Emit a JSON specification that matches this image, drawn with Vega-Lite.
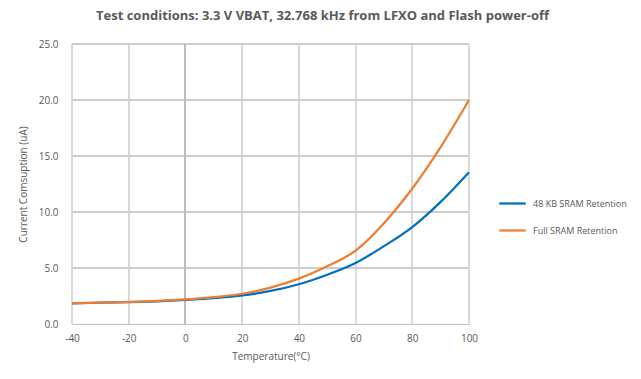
{
  "$schema": "https://vega.github.io/schema/vega-lite/v6.json",
  "width": 397,
  "height": 280,
  "autosize": {"type": "none"},
  "padding": {"left": 72, "top": 44, "right": 172, "bottom": 55},
  "background": "white",
  "title": {
    "text": "Test conditions: 3.3 V VBAT, 32.768 kHz from LFXO and Flash power-off",
    "font": "Open Sans",
    "fontSize": 13,
    "fontWeight": "bold",
    "color": "#595959",
    "anchor": "middle",
    "dx": 52,
    "offset": 16
  },
  "data": {
    "values": [
      {"t": -40, "s": "48 KB SRAM Retention", "v": 1.85},
      {"t": -30, "s": "48 KB SRAM Retention", "v": 1.9},
      {"t": -20, "s": "48 KB SRAM Retention", "v": 1.95},
      {"t": -10, "s": "48 KB SRAM Retention", "v": 2.03},
      {"t": 0, "s": "48 KB SRAM Retention", "v": 2.15},
      {"t": 10, "s": "48 KB SRAM Retention", "v": 2.3},
      {"t": 20, "s": "48 KB SRAM Retention", "v": 2.55},
      {"t": 30, "s": "48 KB SRAM Retention", "v": 2.95},
      {"t": 40, "s": "48 KB SRAM Retention", "v": 3.55},
      {"t": 50, "s": "48 KB SRAM Retention", "v": 4.4},
      {"t": 60, "s": "48 KB SRAM Retention", "v": 5.45},
      {"t": 70, "s": "48 KB SRAM Retention", "v": 6.95},
      {"t": 80, "s": "48 KB SRAM Retention", "v": 8.65},
      {"t": 90, "s": "48 KB SRAM Retention", "v": 10.9},
      {"t": 100, "s": "48 KB SRAM Retention", "v": 13.55},
      {"t": -40, "s": "Full SRAM Retention", "v": 1.85},
      {"t": -30, "s": "Full SRAM Retention", "v": 1.9},
      {"t": -20, "s": "Full SRAM Retention", "v": 1.97},
      {"t": -10, "s": "Full SRAM Retention", "v": 2.06},
      {"t": 0, "s": "Full SRAM Retention", "v": 2.2},
      {"t": 10, "s": "Full SRAM Retention", "v": 2.4},
      {"t": 20, "s": "Full SRAM Retention", "v": 2.7},
      {"t": 30, "s": "Full SRAM Retention", "v": 3.25},
      {"t": 40, "s": "Full SRAM Retention", "v": 4.05},
      {"t": 50, "s": "Full SRAM Retention", "v": 5.15},
      {"t": 60, "s": "Full SRAM Retention", "v": 6.55},
      {"t": 70, "s": "Full SRAM Retention", "v": 9.0},
      {"t": 80, "s": "Full SRAM Retention", "v": 12.1},
      {"t": 90, "s": "Full SRAM Retention", "v": 15.8},
      {"t": 100, "s": "Full SRAM Retention", "v": 20.0}
    ]
  },
  "layer": [
    {"mark": {"type": "rule", "color": "#D9D9D9"}, "encoding": {"x": {"datum": -40, "type": "quantitative"}}},
    {"mark": {"type": "rule", "color": "#D9D9D9"}, "encoding": {"x": {"datum": -20, "type": "quantitative"}}},
    {"mark": {"type": "rule", "color": "#D9D9D9"}, "encoding": {"x": {"datum": 20, "type": "quantitative"}}},
    {"mark": {"type": "rule", "color": "#D9D9D9"}, "encoding": {"x": {"datum": 40, "type": "quantitative"}}},
    {"mark": {"type": "rule", "color": "#D9D9D9"}, "encoding": {"x": {"datum": 60, "type": "quantitative"}}},
    {"mark": {"type": "rule", "color": "#D9D9D9"}, "encoding": {"x": {"datum": 80, "type": "quantitative"}}},
    {"mark": {"type": "rule", "color": "#D9D9D9"}, "encoding": {"x": {"datum": 100, "type": "quantitative"}}},
    {"mark": {"type": "rule", "color": "#CCCCCC", "strokeWidth": 1}, "encoding": {"y": {"datum": 5, "type": "quantitative"}, "x": {"datum": -40, "type": "quantitative"}, "x2": {"datum": 100}}},
    {"mark": {"type": "rule", "color": "#CCCCCC", "strokeWidth": 1}, "encoding": {"y": {"datum": 10, "type": "quantitative"}, "x": {"datum": -40, "type": "quantitative"}, "x2": {"datum": 100}}},
    {"mark": {"type": "rule", "color": "#CCCCCC", "strokeWidth": 1}, "encoding": {"y": {"datum": 15, "type": "quantitative"}, "x": {"datum": -40, "type": "quantitative"}, "x2": {"datum": 100}}},
    {"mark": {"type": "rule", "color": "#CCCCCC", "strokeWidth": 1}, "encoding": {"y": {"datum": 20, "type": "quantitative"}, "x": {"datum": -40, "type": "quantitative"}, "x2": {"datum": 100}}},
    {"mark": {"type": "rule", "color": "#CCCCCC", "strokeWidth": 1}, "encoding": {"y": {"datum": 25, "type": "quantitative"}, "x": {"datum": -40, "type": "quantitative"}, "x2": {"datum": 100}}},
    {"mark": {"type": "rule", "color": "#BFBFBF"}, "encoding": {"x": {"datum": 0, "type": "quantitative"}}},
    {
      "mark": {"type": "line", "interpolate": "monotone", "strokeWidth": 2.25},
      "encoding": {
        "x": {
          "field": "t",
          "type": "quantitative",
          "scale": {"domain": [-40, 100], "nice": false, "zero": false},
          "axis": {
            "title": "Temperature(°C)",
            "values": [-40, -20, 0, 20, 40, 60, 80, 100],
            "labelExpr": "replace(datum.label, '−', '-')",
            "grid": false
          }
        },
        "y": {
          "field": "v",
          "type": "quantitative",
          "scale": {"domain": [0, 25], "nice": false},
          "axis": {
            "title": "Current Comsuption (uA)",
            "values": [0, 5, 10, 15, 20, 25],
            "format": ".1f",
            "grid": false
          }
        },
        "color": {
          "field": "s",
          "type": "nominal",
          "scale": {
            "domain": ["48 KB SRAM Retention", "Full SRAM Retention"],
            "range": ["#0070C0", "#ED7D31"]
          },
          "legend": {
            "title": null,
            "orient": "none",
            "legendX": 426,
            "legendY": 145,
            "symbolType": "stroke",
            "symbolSize": 700,
            "symbolStrokeWidth": 2.25,
            "labelFont": "Open Sans",
            "labelFontSize": 9,
            "labelColor": "#595959",
            "rowPadding": 7,
            "labelOffset": 6
          }
        }
      }
    }
  ],
  "config": {
    "view": {"stroke": null},
    "axis": {
      "labelFont": "Open Sans",
      "labelFontSize": 10,
      "labelColor": "#595959",
      "titleFont": "Open Sans",
      "titleFontSize": 10,
      "titleFontWeight": "normal",
      "titleColor": "#595959",
      "tickSize": 0,
      "domain": false,
      "grid": false
    },
    "axisX": {
      "domain": true,
      "domainColor": "#BFBFBF",
      "labelPadding": 9,
      "titlePadding": 8,
      "labelFlush": false
    },
    "axisY": {"labelPadding": 14, "titlePadding": 10}
  }
}
